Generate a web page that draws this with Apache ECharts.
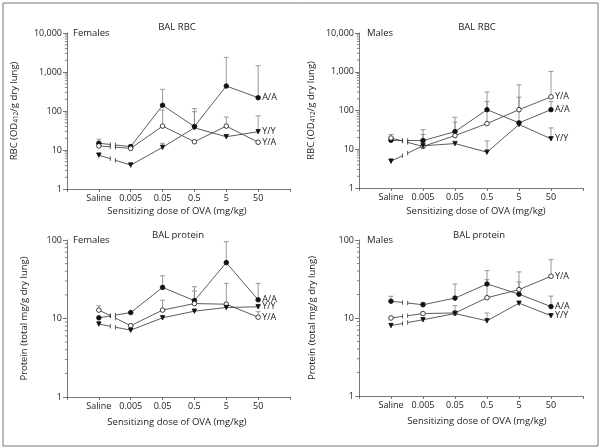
<!DOCTYPE html>
<html><head><meta charset="utf-8">
<script src="https://cdn.jsdelivr.net/npm/echarts@6/dist/echarts.min.js"></script>
<style>html,body{margin:0;padding:0;background:#fff}#c{width:602px;height:448px}</style>
</head><body><div id="c"></div>
<script>
const categories = ['Saline', '0.005', '0.05', '0.5', '5', '50'];
const seriesNames = ['A/A', 'Y/A', 'Y/Y'];
const rbcTicks = [1, 10, 100, 1000, 10000];
const proteinTicks = [1, 10, 100];
const minorFactors = [2, 3, 4, 5, 6, 7, 8, 9];

// Females, BAL RBC
const fRbcAA = [14.9, 12.2, 140, 40, 437, 219];
const fRbcAAErr = [19, 13.5, 360, 115, 2380, 1450];
const fRbcYA = [12.7, 11, 41, 16.3, 41, 15.8];
const fRbcYAErr = [null, null, 106, null, 70, null];
const fRbcYY = [7.4, 4.1, 11.7, 37, 21.9, 29.5];
const fRbcYYErr = [8.2, 4.7, 14.9, 96, null, 75];

// Males, BAL RBC
const mRbcAA = [17, 16.7, 28.5, 105, 48, 105];
const mRbcAAErr = [20, 32, 67, 300, 220, 170];
const mRbcYA = [19.5, 11.8, 22.5, 46, 105, 225];
const mRbcYAErr = [24, 24, 50, 170, 460, 1020];
const mRbcYY = [4.9, 12.3, 14, 8.4, 43.5, 18.6];
const mRbcYYErr = [5.6, null, null, 16.4, null, 35.6];

// Females, BAL protein
const fProtAA = [10.2, 11.9, 24.9, 16.9, 51.5, 17.3];
const fProtAAErr = [null, null, 35, 25.4, 95, 28];
const fProtYA = [12.8, 8.1, 12.8, 15.5, 15.2, 10.4];
const fProtYAErr = [14.5, null, 17.1, 22.4, 28, 12.2];
const fProtYY = [8.5, 7.1, 10.2, 12.4, 13.8, 14.1];
const fProtYYErr = [null, null, null, null, null, null];

// Males, BAL protein
const mProtAA = [16.4, 14.8, 18, 27.3, 20.2, 14];
const mProtAAErr = [19, 15.9, 27.3, 40.5, 29, 19.1];
const mProtYA = [10, 11.4, 11.6, 18.2, 23.1, 34.3];
const mProtYAErr = [null, null, 14.4, 31, 39, 56];
const mProtYY = [8, 9.5, 11.4, 9.2, 15.5, 10.7];
const mProtYYErr = [null, null, null, 11.6, null, null];

const FONT = 'Open Sans';
const TXT = '#222';
const LINE = '#333';
const ERR = '#808080';
const AXIS = '#555';

const panels = [
  {grid:{left:67, top:33, width:223, height:156}, ticks:rbcTicks, yName:'RBC (OD{sub|412}/g dry lung)', nameGap:47,
   title:'BAL RBC', titleX:177, titleY:27, sex:'Females', sexX:73, sexY:33, xNameX:177, xNameY:211,
   data:[[fRbcAA,fRbcAAErr],[fRbcYA,fRbcYAErr],[fRbcYY,fRbcYYErr]]},
  {grid:{left:359, top:33, width:224, height:155}, ticks:rbcTicks, yName:'RBC (OD{sub|412}/g dry lung)', nameGap:42,
   title:'BAL RBC', titleX:477, titleY:27, sex:'Males', sexX:367, sexY:33, xNameX:476, xNameY:211,
   data:[[mRbcAA,mRbcAAErr],[mRbcYA,mRbcYAErr],[mRbcYY,mRbcYYErr]]},
  {grid:{left:67, top:240, width:223, height:157}, ticks:proteinTicks, yName:'Protein (total mg/g dry lung)', nameGap:38,
   title:'BAL protein', titleX:178, titleY:235, sex:'Females', sexX:73, sexY:240, xNameX:177, xNameY:422,
   data:[[fProtAA,fProtAAErr],[fProtYA,fProtYAErr],[fProtYY,fProtYYErr]]},
  {grid:{left:359, top:240, width:224, height:156}, ticks:proteinTicks, yName:'Protein (total mg/g dry lung)', nameGap:42,
   title:'BAL protein', titleX:479, titleY:235, sex:'Males', sexX:367, sexY:240, xNameX:477, xNameY:421,
   data:[[mProtAA,mProtAAErr],[mProtYA,mProtYAErr],[mProtYY,mProtYYErr]]}
];

const symbolStyles = [
  {symbol:'circle', size:4.6, rotate:0, fill:'#111'},
  {symbol:'circle', size:4.6, rotate:0, fill:'#fff'},
  {symbol:'triangle', size:4.4, rotate:180, fill:'#111'}
];

const grids = [], xAxes = [], yAxes = [], series = [], graphics = [];

graphics.push({type:'rect', shape:{x:3, y:3, width:595, height:443}, style:{fill:'none', stroke:'#777', lineWidth:1}, silent:true});

panels.forEach((p, pi) => {
  grids.push(p.grid);
  xAxes.push({
    type:'value', gridIndex:pi, min:-1, max:6, interval:1,
    axisLine:{onZero:false, lineStyle:{color:AXIS, width:0.8}},
    axisTick:{length:3, lineStyle:{color:AXIS, width:0.8}},
    splitLine:{show:false},
    axisLabel:{fontFamily:FONT, fontSize:9, color:TXT, margin:5,
      formatter: v => (v >= 0 && v < categories.length) ? categories[v] : ''}
  });
  const yMax = p.ticks[p.ticks.length - 1];
  yAxes.push({
    type:'log', logBase:10, gridIndex:pi, min:p.ticks[0], max:yMax,
    name:p.yName, nameLocation:'middle', nameGap:p.nameGap, nameRotate:90,
    nameTextStyle:{fontFamily:FONT, fontSize:9.5, color:TXT,
      rich:{sub:{fontFamily:FONT, fontSize:6.5, color:TXT, padding:[5,0,0,0]}}},
    axisLine:{show:true, onZero:false, lineStyle:{color:AXIS, width:0.8}},
    axisTick:{length:4, lineStyle:{color:AXIS, width:0.8}},
    splitLine:{show:false},
    axisLabel:{fontFamily:FONT, fontSize:9, color:TXT, margin:5,
      formatter: v => Number(v).toLocaleString('en-US')}
  });

  const minors = [];
  for (let d = p.ticks[0]; d < yMax; d *= 10) minorFactors.forEach(f => minors.push([-1, f * d]));
  series.push({
    type:'custom', xAxisIndex:pi, yAxisIndex:pi, silent:true, z:1, clip:false,
    data:minors,
    renderItem:(params, api) => {
      const c = api.coord([api.value(0), api.value(1)]);
      return {type:'line', shape:{x1:c[0]-2.2, y1:c[1], x2:c[0], y2:c[1]}, style:{stroke:AXIS, lineWidth:0.7}};
    }
  });

  p.data.forEach((pair, si) => {
    const vals = pair[0], errs = pair[1];
    const st = symbolStyles[si];
    const errData = [];
    errs.forEach((e, i) => { if (e != null) errData.push([i, vals[i], e]); });
    series.push({
      type:'custom', xAxisIndex:pi, yAxisIndex:pi, silent:true, z:2,
      data:errData, encode:{x:0, y:[1,2]},
      renderItem:(params, api) => {
        const a = api.coord([api.value(0), api.value(1)]);
        const b = api.coord([api.value(0), api.value(2)]);
        return {type:'group', children:[
          {type:'line', shape:{x1:a[0], y1:a[1], x2:b[0], y2:b[1]}, style:{stroke:ERR, lineWidth:0.8}},
          {type:'line', shape:{x1:b[0]-2.5, y1:b[1], x2:b[0]+2.5, y2:b[1]}, style:{stroke:ERR, lineWidth:0.8}}
        ]};
      }
    });
    series.push({
      type:'custom', xAxisIndex:pi, yAxisIndex:pi, silent:true, z:3,
      data:[[0, vals[0], 1, vals[1]]], encode:{x:[0,2], y:[1,3]},
      renderItem:(params, api) => {
        const a = api.coord([api.value(0), api.value(1)]);
        const b = api.coord([api.value(2), api.value(3)]);
        const t1 = 0.36, t2 = 0.52;
        const pa = [a[0] + (b[0]-a[0])*t1, a[1] + (b[1]-a[1])*t1];
        const pb = [a[0] + (b[0]-a[0])*t2, a[1] + (b[1]-a[1])*t2];
        const s = {stroke:LINE, lineWidth:0.8};
        return {type:'group', children:[
          {type:'line', shape:{x1:a[0], y1:a[1], x2:pa[0], y2:pa[1]}, style:s},
          {type:'line', shape:{x1:pb[0], y1:pb[1], x2:b[0], y2:b[1]}, style:s},
          {type:'line', shape:{x1:pa[0], y1:pa[1]-2.2, x2:pa[0], y2:pa[1]+2.2}, style:s},
          {type:'line', shape:{x1:pb[0], y1:pb[1]-2.2, x2:pb[0], y2:pb[1]+2.2}, style:s}
        ]};
      }
    });
    const lineData = [[0, vals[0]], [0.5, '-']];
    for (let i = 1; i < vals.length; i++) lineData.push([i, vals[i]]);
    series.push({
      type:'line', name:seriesNames[si], xAxisIndex:pi, yAxisIndex:pi, z:5,
      data:lineData, connectNulls:false,
      symbol:st.symbol, symbolSize:st.size, symbolRotate:st.rotate, showAllSymbol:true,
      lineStyle:{color:LINE, width:0.8},
      itemStyle:{color:st.fill, borderColor:'#111', borderWidth:0.8},
      endLabel:{show:true, formatter:seriesNames[si], fontFamily:FONT, fontSize:9, color:TXT, distance:4},
      animation:false
    });
  });

  graphics.push({type:'text', x:p.titleX, y:p.titleY, style:{text:p.title, font:'9.5px "Open Sans"', fill:TXT, textAlign:'center', textVerticalAlign:'middle'}});
  graphics.push({type:'text', x:p.sexX, y:p.sexY, style:{text:p.sex, font:'9.5px "Open Sans"', fill:TXT, textAlign:'left', textVerticalAlign:'middle'}});
  graphics.push({type:'text', x:p.xNameX, y:p.xNameY, style:{text:'Sensitizing dose of OVA (mg/kg)', font:'9.5px "Open Sans"', fill:TXT, textAlign:'center', textVerticalAlign:'middle'}});
});

const chart = echarts.init(document.getElementById('c'), null, {renderer:'canvas'});
chart.setOption({
  animation:false,
  backgroundColor:'#fff',
  grid:grids, xAxis:xAxes, yAxis:yAxes, series:series, graphic:graphics
});
</script></body></html>
